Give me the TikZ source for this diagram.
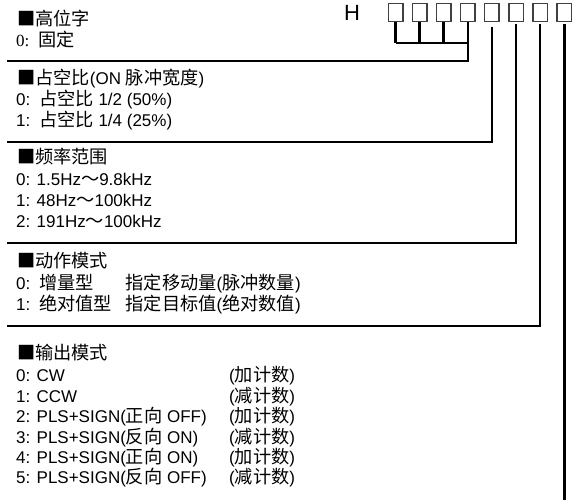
\documentclass[tikz,border=0pt]{standalone}
\usepackage{fontspec}
\setmainfont{Liberation Sans}
\newfontfamily\cjk[Scale=1.07]{Noto Sans CJK SC}
\newfontfamily\tms{Liberation Serif}
\usepackage{tikz}

\begin{document}
\begin{tikzpicture}[x=1pt, y=-1pt,
    bit/.style={draw=black!75, line width=1.5pt, minimum width=14.5pt, minimum height=18pt, inner sep=0pt},
    txt/.style={anchor=base west, inner sep=0pt, font=\fontsize{17}{20}\selectfont},
    wire/.style={line width=2.6pt}]
    \useasboundingbox (0,0) rectangle (573,502);
    % 8 位设定
    \node[anchor=base west, inner sep=0pt, font=\fontsize{22}{24}\selectfont] (h) at (344,21) {H};
    \foreach \i in {1,...,8}
        \node[bit] (b\i) at ({371.4+24.1*\i},12.5) {};
    % 高位字: 前 4 位合并
    \coordinate (j) at (b4.south |- 0,43);
    \foreach \i in {1,2,3}
        \draw[wire] (b\i.south) -- (b\i.south |- j);
    \draw[wire] (b1.south |- j) -- (j);
    \draw[wire] (b4.south) -- (b4.south |- 0,61) -- (7,61);
    \draw[wire] ([yshift=-5pt]b5.south) -- (b5.south |- 0,142) -- (7,142);
    \draw[wire] ([yshift=-1.5pt]b6.south) -- (b6.south |- 0,243) -- (7,243);
    \draw[wire] ([yshift=-1.5pt]b7.south) -- (b7.south |- 0,326) -- (7,326);
    \draw[wire] ([yshift=-1.5pt]b8.south) -- (b8.south |- 0,500);

    % 高位字
    \node[txt] (g0) at (17,26) {\cjk ■高位字};
    \node[txt] (g1) at (16,47) {{\tms 0:} \hspace{.15em}{\cjk 固定}};
    % 占空比
    \node[txt] (d0) at (17,85) {{\cjk ■占空比}(ON {\cjk 脉冲宽度})};
    \node[txt] (d1) at (16,106) {0: \hspace{.15em}{\cjk 占空比} 1/2 (50\%)};
    \node[txt] (d2) at (16,127) {1: \hspace{.15em}{\cjk 占空比} 1/4 (25\%)};
    % 频率范围
    \node[txt] (f0) at (17,164) {\cjk ■频率范围};
    \node[txt] (f1) at (16,186) {0: 1.5Hz{\cjk ～}9.8kHz};
    \node[txt] (f2) at (16,207) {1: 48Hz{\cjk ～}100kHz};
    \node[txt] (f3) at (16,228) {2: 191Hz{\cjk ～}100kHz};
    % 动作模式
    \node[txt] (m0) at (17,268) {\cjk ■动作模式};
    \node[txt] (m1) at (16,290) {0: \hspace{.15em}{\cjk 增量型}};
    \node[txt] (m1r) at (125.5,290) {{\cjk 指定移动量}({\cjk 脉冲数量})};
    \node[txt] (m2) at (16,311) {1: \hspace{.15em}{\cjk 绝对值型}};
    \node[txt] (m2r) at (125.5,311) {{\cjk 指定目标值}({\cjk 绝对数值})};
    % 输出模式
    \node[txt] (o0) at (17,360) {\cjk ■输出模式};
    \foreach \n/\a/\b [count=\k] in {0/CW/加, 1/CCW/减,
            2/PLS+SIGN({\cjk 正向} OFF)/加, 3/PLS+SIGN({\cjk 反向} ON)/减,
            4/PLS+SIGN({\cjk 正向} ON)/加, 5/PLS+SIGN({\cjk 反向} OFF)/减} {
        \node[txt] (o\k) at (16,{361.5+20.4*\k}) {\n: \a};
        \node[txt] (c\k) at (229,{361.5+20.4*\k}) {({\cjk \b 计数})};
    }
\end{tikzpicture}
\end{document}
